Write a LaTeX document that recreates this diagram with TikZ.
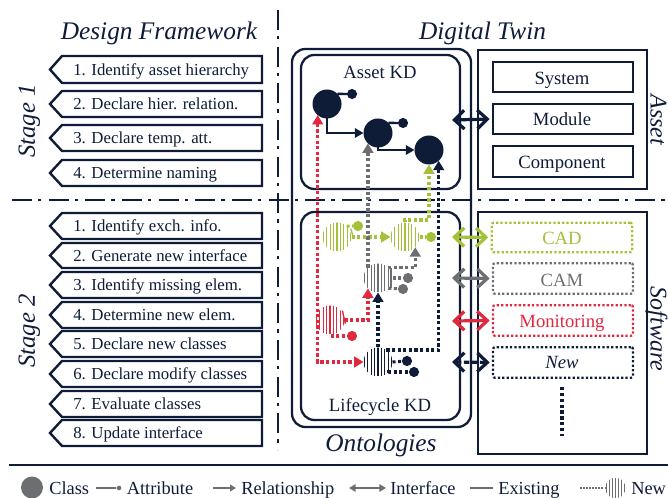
\documentclass[tikz,border=0pt]{standalone}
\usepackage{fontspec}
\setmainfont{Liberation Serif}
\usetikzlibrary{arrows.meta,calc}
\definecolor{navy}{HTML}{0E1C38}
\definecolor{grn}{HTML}{A3C139}
\definecolor{gry}{HTML}{6C6E71}
\definecolor{rd}{HTML}{E0283F}
\tikzset{
  txt/.style={text=navy,inner sep=0,anchor=base},
  itemtxt/.style={text=navy,inner sep=0,anchor=base west,font=\fontsize{12.6}{14}\selectfont},
  boxtxt/.style={txt,font=\fontsize{14}{16}\selectfont},
  bigtxt/.style={txt,font=\fontsize{19}{22}\selectfont\itshape},
  sidetxt/.style={txt,font=\fontsize{18}{22}\selectfont\itshape},
  legtxt/.style={text=navy,inner sep=0,anchor=base west,font=\fontsize{13.8}{16}\selectfont},
  stepshape/.style={draw=navy,line width=1.8pt,fill=white,line join=miter},
  framebox/.style={draw=navy,line width=1.7pt,rounded corners=10pt,inner sep=0,outer sep=0},
  squarebox/.style={draw=navy,line width=1.8pt,inner sep=0,outer sep=0},
  dotbox/.style={draw=#1,line width=1.7pt,dash pattern=on 1.7pt off 1.6pt,rounded corners=1.5pt,inner sep=0,outer sep=0},
  divider/.style={draw=navy,line width=1.8pt,dash pattern=on 15pt off 4.6pt on 2.3pt off 5.6pt},
  cls/.style={circle,fill=navy,inner sep=0,outer sep=0,minimum size=21.75pt},
  att/.style={circle,fill=#1,inner sep=0,outer sep=0,minimum size=7.6pt},
  stripe/.style={circle,inner sep=0,outer sep=0,minimum size=21.75pt,path picture={
    \foreach \k in {-4,...,4}{\draw[line width=.85pt,#1]
      ([xshift=\k*2.55pt]path picture bounding box.south) -- ([xshift=\k*2.55pt]path picture bounding box.north);}}},
  rel/.style={draw=navy,line width=1.9pt,-{Triangle[length=6.5pt,width=7pt]}},
  link/.style={draw=#1,line width=2.5pt,dash pattern=on 2.4pt off 1.8pt,-{Triangle[length=7pt,width=8pt]}},
  attlink/.style={draw=#1,line width=2.3pt,dash pattern=on 2.3pt off 1.9pt},
  spine/.style={draw=#1,line width=1pt},
  iface/.style={draw=#1,line width=2.4pt,shorten >=2.5pt,{Straight Barb[length=7.5pt,width=14pt,line width=2.4pt]}-{Straight Barb[length=7.5pt,width=14pt,line width=2.4pt]}},
  legline/.style={draw=gry,line width=1.7pt},
}
\newcommand{\stepitem}[4]{%
  \draw[stepshape] (50,{(#2+#3)/2}) -- (62,#2) -- (262,#2) -- (262,#3) -- (62,#3) -- cycle;
  \node[itemtxt] (#1) at (73,{(#2+#3)/2+6}) {#4};}
\begin{document}
\begin{tikzpicture}[x=0.75pt,y=-0.75pt]
\useasboundingbox (0,0) rectangle (668,498);
% dividers
\coordinate (vt) at (278,10);\coordinate (vb) at (278,450);
\coordinate (hl) at (12,200);\coordinate (hr) at (668,200);
\draw[divider] (vt) -- (vb);
\draw[divider] (hl) -- (hr);
% titles
\node[bigtxt] (tdf) at (159,39.5) {Design Framework};
\node[bigtxt] (tdt) at (482.5,40) {Digital Twin};
\node[bigtxt] (tont) at (381,452) {Ontologies};
\node[sidetxt,rotate=90,font=\fontsize{18.5}{22}\selectfont\itshape] (ts1) at (35,121) {Stage 1};
\node[sidetxt,rotate=90,font=\fontsize{18.5}{22}\selectfont\itshape] (ts2) at (35,331) {Stage 2};
\node[sidetxt,rotate=-90] (tas) at (650.5,120) {Asset};
\node[sidetxt,rotate=-90] (tsw) at (650.5,329) {Software};
% steps
\stepitem{sa}{56}{83}{1. Identify asset hierarchy}
\stepitem{sb}{91}{117}{2. Declare hier. relation.}
\stepitem{sc}{125}{151}{3. Declare temp. att.}
\stepitem{sd}{160}{186}{4. Determine naming}
\stepitem{se}{213}{239}{1. Identify exch. info.}
\stepitem{sf}{243}{268}{2. Generate new interface}
\stepitem{sg}{272}{298}{3. Identify missing elem.}
\stepitem{sh}{302}{328}{4. Determine new elem.}
\stepitem{si}{331}{357}{5. Declare new classes}
\stepitem{sj}{361}{387}{6. Declare modify classes}
\stepitem{sk}{391}{417}{7. Evaluate classes}
\stepitem{sl}{420}{446}{8. Update interface}
% frames
\node[framebox,minimum width=134.25pt,minimum height=283.5pt] (outer) at (381.5,238) {};
\node[framebox,minimum width=119.25pt,minimum height=100.5pt] (assetkd) at (380.5,122) {};
\node[framebox,minimum width=119.25pt,minimum height=156pt] (lifekd) at (380.5,316) {};
\node[boxtxt] (lassetkd) at (380,78.5) {Asset KD};
\node[boxtxt] (llifekd) at (380,412) {Lifecycle KD};
% panels
\node[squarebox,minimum width=126.75pt,minimum height=104.25pt] (passet) at (562.5,119.5) {};
\node[squarebox,minimum width=126.75pt,minimum height=181.5pt] (psoft) at (562.5,333) {};
\node[squarebox,minimum width=105pt,minimum height=22.5pt] (sys) at (563,77) {};
\node[squarebox,minimum width=105pt,minimum height=22.5pt] (mod) at (563,119) {};
\node[squarebox,minimum width=105pt,minimum height=23pt] (com) at (563,161.5) {};
\node[boxtxt] (tsys) at (562,84.5) {System};
\node[boxtxt] (tmod) at (562,126) {Module};
\node[boxtxt] (tcom) at (562,169) {Component};
\node[dotbox=grn,minimum width=105.5pt,minimum height=22pt] (cad) at (562,237.5) {};
\node[dotbox=gry,minimum width=105pt,minimum height=23pt] (cam) at (563,278.5) {};
\node[dotbox=rd,minimum width=105pt,minimum height=23pt] (mon) at (563,320.5) {};
\node[dotbox=navy,minimum width=105pt,minimum height=23pt] (new) at (563,362.5) {};
\node[boxtxt,text=grn] (tcad) at (562,245) {CAD};
\node[boxtxt,text=gry] (tcam) at (562,287) {CAM};
\node[boxtxt,text=rd] (tmon) at (562,328) {Monitoring};
\node[boxtxt,font=\fontsize{14}{16}\selectfont\itshape] (tnew) at (562,369) {New};
\coordinate (mt) at (562,387);\coordinate (mb) at (562,436);
\draw[navy,line width=2.6pt,dash pattern=on 2.4pt off 2pt] (mt) -- (mb);
% classes
\node[cls] (c1) at (327,104) {};
\node[cls] (c2) at (378,133) {};
\node[cls] (c3) at (429,150) {};
\node[att=navy] (a1) at (352,94) {};
\node[att=navy] (a2) at (403,123) {};
\draw[navy,line width=1.8pt] (c1.44) -- (a1);
\draw[navy,line width=1.8pt] (c2.44) -- (a2);
\draw[rel] (c1.south) |- (c2.west);
\draw[rel] (c2.south) |- (c3.west);
% lifecycle classes
\node[stripe=grn] (lg1) at (337,237) {};
\node[stripe=grn] (lg2) at (405,237) {};
\node[stripe=gry] (gr) at (378,278) {};
\node[stripe=rd] (rc) at (330,320) {};
\node[stripe=navy] (nc) at (378,362) {};
\node[att=grn] (la1) at (358,226) {};
\node[att=grn] (la2) at (431,237) {};
\node[att=gry] (ga1) at (408,278) {};
\node[att=gry] (ga2) at (403,289) {};
\node[att=rd] (ra) at (352,336) {};
\node[att=navy] (na1) at (407,361) {};
\node[att=navy] (na2) at (414,372) {};
\draw[attlink=grn] (lg1.49) -- (la1);
\draw[attlink=grn] (lg2.east) -- (la2);
\draw[attlink=gry] (gr.east) -- (ga1);
\draw[attlink=gry] (gr.-45) -- (ga2);
\draw[attlink=rd] (rc.-80) |- (ra.west);
\draw[attlink=navy] (nc.east) -- (na1);
\draw[attlink=navy] (nc.-45) |- (na2.west);
\draw[spine=grn] ([xshift=1.5pt]lg1.35) -- ([xshift=1.5pt]lg1.-5);
\draw[spine=gry] ([xshift=2pt]gr.45) -- ([xshift=2pt]gr.-45);
\draw[spine=rd] ([xshift=1pt]rc.40) -- ([xshift=1pt]rc.-15);
\draw[spine=navy] (nc.45) -- (nc.-45);
% lifecycle links
\draw[link=grn] (lg1.east) -- (lg2.west);
\draw[link=grn] (lg2.north) -- ++(0,-2.5) -| (c3.south);
\draw[link=gry] (gr.45) -| (lg2.-45);
\draw[link=gry] (gr.134) -- (c2.226);
\draw[link=rd] (rc.east) -| (gr.226);
\draw[link=navy] (nc.north) -- (gr.south);
\draw[link=navy] (nc.55) -| (c3.-48);
\draw[link=rd,{Triangle[length=7pt,width=8pt]}-{Triangle[length=7pt,width=8pt]}] (c1.230) |- (nc.west);
% interfaces
\coordinate (ia) at (452,120);\coordinate (ib) at (452,237);\coordinate (ic) at (452,278);\coordinate (id) at (452,321);\coordinate (ie) at (452,362);
\draw[iface=navy] (ia) -- (mod.west);
\draw[iface=grn] (ib) -- (cad.west);
\draw[iface=gry] (ic) -- (cam.west);
\draw[iface=rd] (id) -- (mon.west);
\draw[iface=navy,dash pattern=on 4pt off 2pt] (ie) -- (new.west);
% legend
\coordinate (ll) at (9,465);\coordinate (lr) at (668,465);
\draw[navy,line width=1.8pt] (ll) -- (lr);
\node[circle,fill=gry,minimum size=16.5pt,inner sep=0] (lc) at (32,487.5) {};
\node[legtxt] (lt1) at (49,494.5) {Class};
\coordinate (la) at (96,488);
\node[circle,fill=gry,minimum size=3.5pt,inner sep=0] (ldot) at (119,488) {};
\draw[legline] (la) -- (ldot);
\node[legtxt] (lt2) at (126.5,494.5) {Attribute};
\coordinate (lr1) at (213,488);\coordinate (lr2) at (236,488);
\draw[legline,-{Triangle[length=4.5pt,width=5pt]}] (lr1) -- (lr2);
\node[legtxt] (lt3) at (241,494.5) {Relationship};
\coordinate (li1) at (349,488);\coordinate (li2) at (386,488);
\draw[legline,{Triangle[length=5pt,width=5.5pt]}-{Triangle[length=5pt,width=5.5pt]}] (li1) -- (li2);
\node[legtxt] (lt4) at (390,494.5) {Interface};
\coordinate (le1) at (470,488);\coordinate (le2) at (493,488);
\draw[legline] (le1) -- (le2);
\node[legtxt] (lt5) at (498,494.5) {Existing};
\coordinate (ln1) at (580,488);
\node[circle,inner sep=0,minimum size=15.5pt,path picture={
  \foreach \k in {-3,...,3}{\draw[line width=.6pt,gry]
    ([xshift=\k*2.2pt]path picture bounding box.south) -- ([xshift=\k*2.2pt]path picture bounding box.north);}}] (lst) at (615.5,488) {};
\draw[gry,line width=1.3pt,dash pattern=on 1.3pt off 1pt] (ln1) -- (lst.west);
\node[legtxt] (lt6) at (631,494.5) {New};
\end{tikzpicture}
\end{document}
